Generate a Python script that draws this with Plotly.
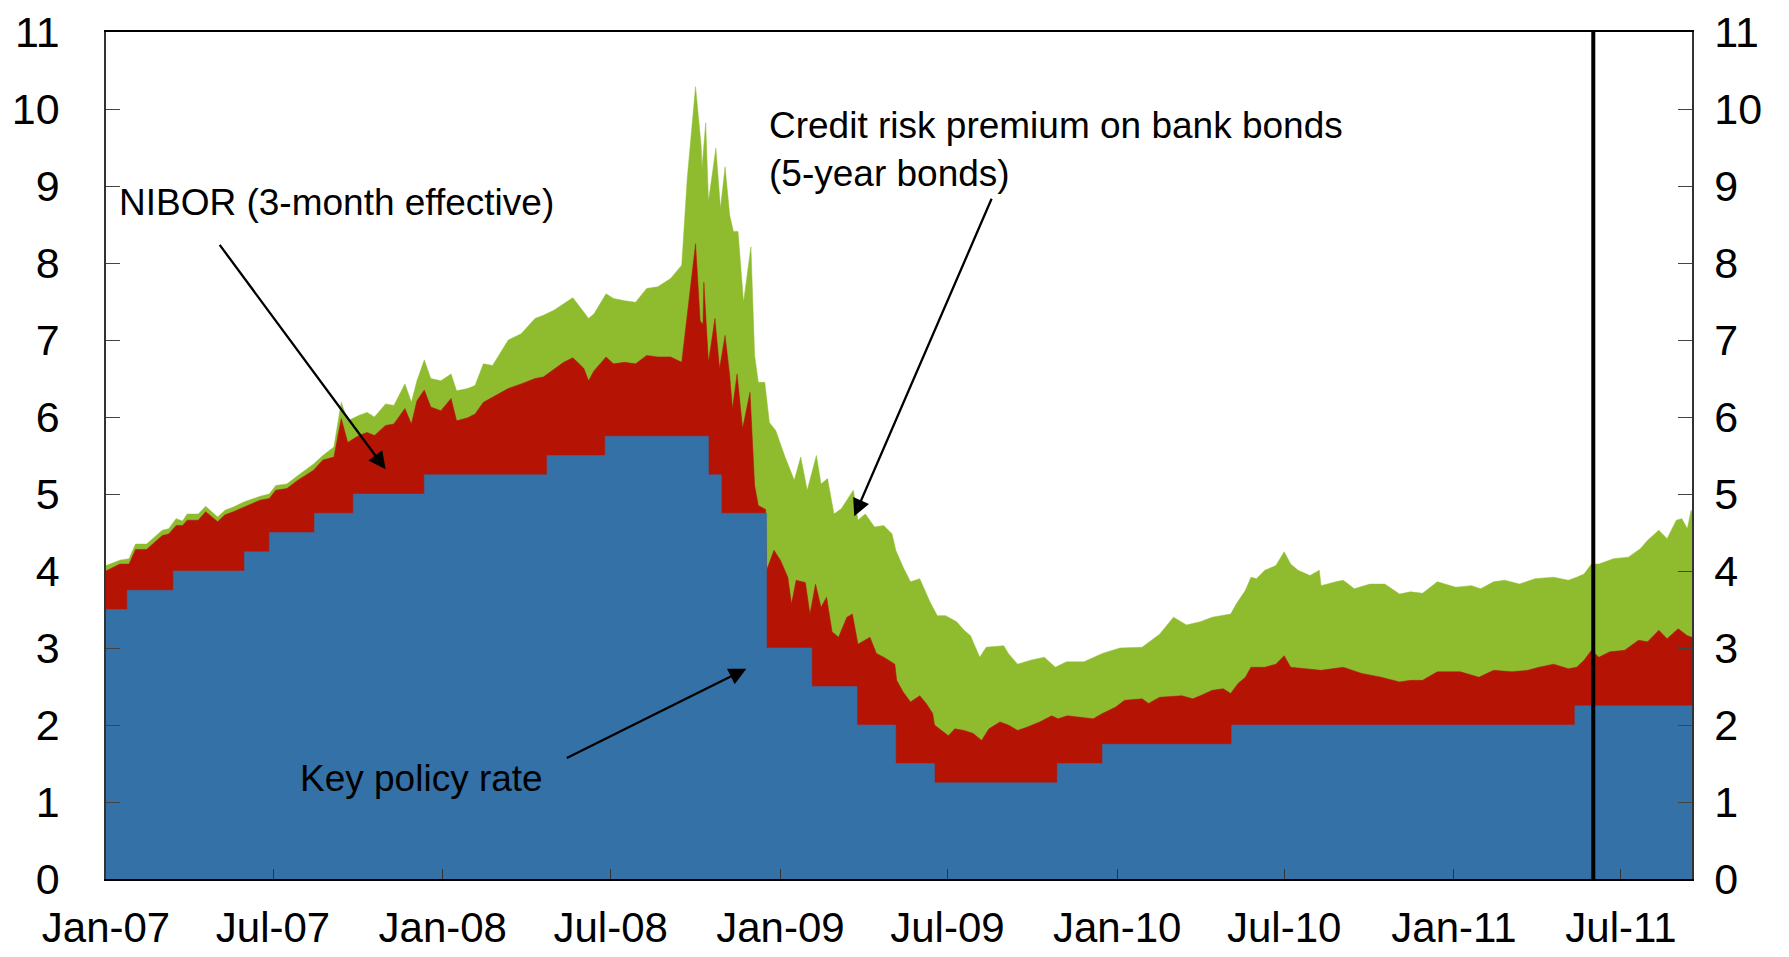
import plotly.graph_objects as go

# ---------------- data ----------------
policy_dates = ['2007-01-01', '2007-01-24', '2007-03-15', '2007-05-31', '2007-06-27', '2007-08-15',
                '2007-09-26', '2007-12-12', '2008-04-23', '2008-06-25', '2008-10-15', '2008-10-29',
                '2008-12-17', '2009-02-04', '2009-03-25', '2009-05-06', '2009-06-17', '2009-10-28',
                '2009-12-16', '2010-05-05', '2011-05-12', '2011-09-16']
policy_rate = [3.50, 3.75, 4.00, 4.25, 4.50, 4.75, 5.00, 5.25, 5.50, 5.75, 5.25, 4.75,
               3.00, 2.50, 2.00, 1.50, 1.25, 1.50, 1.75, 2.00, 2.25, 2.25]

nibor_dates = ['2007-01-01', '2007-01-16', '2007-01-26', '2007-02-02', '2007-02-14', '2007-03-03',
               '2007-03-10', '2007-03-18', '2007-03-25', '2007-03-30', '2007-04-11', '2007-04-19',
               '2007-05-02', '2007-05-10', '2007-05-19', '2007-05-31', '2007-06-17', '2007-06-27',
               '2007-07-04', '2007-07-16', '2007-07-28', '2007-08-14', '2007-08-24', '2007-09-05',
               '2007-09-13', '2007-09-20', '2007-10-02', '2007-10-11', '2007-10-19', '2007-10-31',
               '2007-11-09', '2007-11-21', '2007-11-28', '2007-12-04', '2007-12-12', '2007-12-19',
               '2007-12-30', '2008-01-10', '2008-01-16', '2008-01-28', '2008-02-05', '2008-02-14',
               '2008-02-24', '2008-03-12', '2008-03-26', '2008-04-10', '2008-04-19', '2008-05-01',
               '2008-05-11', '2008-05-21', '2008-06-02', '2008-06-07', '2008-06-13', '2008-06-26',
               '2008-07-04', '2008-07-16', '2008-07-28', '2008-08-09', '2008-08-21', '2008-09-04',
               '2008-09-16', '2008-10-01', '2008-10-06', '2008-10-09', '2008-10-10', '2008-10-15',
               '2008-10-22', '2008-10-27', '2008-11-02', '2008-11-07', '2008-11-10', '2008-11-15',
               '2008-11-21', '2008-11-29', '2008-12-04', '2008-12-08', '2008-12-16', '2008-12-17',
               '2008-12-25', '2009-01-01', '2009-01-09', '2009-01-13', '2009-01-18', '2009-01-28',
               '2009-02-02', '2009-02-08', '2009-02-14', '2009-02-20', '2009-02-26', '2009-03-05',
               '2009-03-14', '2009-03-20', '2009-03-26', '2009-04-08', '2009-04-15', '2009-04-23',
               '2009-05-05', '2009-05-07', '2009-05-14', '2009-05-22', '2009-06-01', '2009-06-08',
               '2009-06-15', '2009-06-17', '2009-07-02', '2009-07-09', '2009-07-19', '2009-07-29',
               '2009-08-07', '2009-08-15', '2009-08-27', '2009-09-05', '2009-09-15', '2009-09-25',
               '2009-10-09', '2009-10-22', '2009-10-29', '2009-11-08', '2009-11-22', '2009-12-06',
               '2009-12-16', '2009-12-30', '2010-01-09', '2010-01-28', '2010-02-04', '2010-02-16',
               '2010-03-12', '2010-03-24', '2010-04-01', '2010-04-14', '2010-04-26', '2010-05-04',
               '2010-05-12', '2010-05-20', '2010-05-26', '2010-06-10', '2010-06-22', '2010-07-01',
               '2010-07-08', '2010-07-24', '2010-08-10', '2010-09-03', '2010-09-23', '2010-10-14',
               '2010-11-03', '2010-11-15', '2010-11-28', '2010-12-14', '2011-01-08', '2011-01-28',
               '2011-02-13', '2011-03-05', '2011-03-22', '2011-04-03', '2011-04-19', '2011-05-05',
               '2011-05-14', '2011-05-22', '2011-05-30', '2011-06-07', '2011-06-19', '2011-07-05',
               '2011-07-20', '2011-07-30', '2011-08-11', '2011-08-20', '2011-09-01', '2011-09-11',
               '2011-09-16']
nibor = [4.00, 4.09, 4.09, 4.28, 4.28, 4.46,
         4.48, 4.59, 4.59, 4.66, 4.66, 4.77,
         4.64, 4.73, 4.77, 4.83, 4.92, 4.94,
         5.05, 5.07, 5.18, 5.31, 5.44, 5.48,
         5.98, 5.67, 5.76, 5.80, 5.76, 5.89,
         5.91, 6.11, 5.91, 6.21, 6.35, 6.13,
         6.08, 6.24, 5.95, 5.99, 6.04, 6.19,
         6.26, 6.37, 6.43, 6.50, 6.52, 6.63,
         6.71, 6.77, 6.63, 6.47, 6.60, 6.78,
         6.69, 6.71, 6.69, 6.80, 6.78, 6.78,
         6.71, 8.25, 7.25, 7.20, 7.75, 6.71,
         7.28, 6.63, 7.06, 6.54, 6.11, 6.56,
         5.85, 6.32, 5.11, 4.85, 4.80, 4.01,
         4.27, 4.14, 3.92, 3.57, 3.88, 3.85,
         3.44, 3.83, 3.53, 3.66, 3.21, 3.14,
         3.40, 3.44, 3.05, 3.14, 2.93, 2.88,
         2.79, 2.58, 2.43, 2.30, 2.38, 2.28,
         2.15, 2.00, 1.86, 1.95, 1.93, 1.89,
         1.80, 1.95, 2.04, 2.00, 1.93, 1.97,
         2.04, 2.12, 2.08, 2.12, 2.10, 2.08,
         2.15, 2.23, 2.32, 2.34, 2.28, 2.36,
         2.38, 2.34, 2.38, 2.45, 2.47, 2.41,
         2.54, 2.62, 2.75, 2.75, 2.79, 2.90,
         2.75, 2.73, 2.71, 2.75, 2.67, 2.62,
         2.56, 2.58, 2.58, 2.69, 2.69, 2.62,
         2.71, 2.69, 2.71, 2.75, 2.79, 2.73,
         2.75, 2.84, 2.97, 2.88, 2.95, 2.97,
         3.10, 3.08, 3.23, 3.12, 3.25, 3.16,
         3.14]

total_dates = ['2007-01-01', '2007-01-16', '2007-01-26', '2007-02-02', '2007-02-14', '2007-03-03',
               '2007-03-10', '2007-03-18', '2007-03-25', '2007-03-30', '2007-04-11', '2007-04-19',
               '2007-05-02', '2007-05-10', '2007-05-19', '2007-05-31', '2007-06-17', '2007-06-27',
               '2007-07-04', '2007-07-16', '2007-07-28', '2007-08-14', '2007-08-24', '2007-09-05',
               '2007-09-13', '2007-09-20', '2007-10-02', '2007-10-11', '2007-10-19', '2007-10-31',
               '2007-11-09', '2007-11-21', '2007-11-28', '2007-12-04', '2007-12-12', '2007-12-19',
               '2007-12-30', '2008-01-10', '2008-01-16', '2008-01-28', '2008-02-05', '2008-02-14',
               '2008-02-24', '2008-03-12', '2008-03-26', '2008-04-10', '2008-04-19', '2008-05-01',
               '2008-05-11', '2008-05-21', '2008-06-02', '2008-06-07', '2008-06-13', '2008-06-26',
               '2008-07-04', '2008-07-16', '2008-07-28', '2008-08-09', '2008-08-21', '2008-09-04',
               '2008-09-16', '2008-09-22', '2008-10-01', '2008-10-07', '2008-10-08', '2008-10-12',
               '2008-10-15', '2008-10-23', '2008-10-28', '2008-11-02', '2008-11-07', '2008-11-11',
               '2008-11-16', '2008-11-22', '2008-11-30', '2008-12-04', '2008-12-08', '2008-12-15',
               '2008-12-20', '2008-12-27', '2009-01-06', '2009-01-16', '2009-01-23', '2009-01-30',
               '2009-02-09', '2009-02-14', '2009-02-21', '2009-02-28', '2009-03-08', '2009-03-15',
               '2009-03-21', '2009-03-26', '2009-04-03', '2009-04-13', '2009-04-23', '2009-05-02',
               '2009-05-06', '2009-05-14', '2009-05-22', '2009-06-01', '2009-06-05', '2009-06-12',
               '2009-06-20', '2009-06-29', '2009-07-11', '2009-07-19', '2009-07-26', '2009-08-05',
               '2009-08-12', '2009-08-31', '2009-09-05', '2009-09-15', '2009-09-29', '2009-10-14',
               '2009-10-26', '2009-11-07', '2009-11-26', '2009-12-16', '2010-01-04', '2010-01-28',
               '2010-02-16', '2010-03-03', '2010-03-17', '2010-04-01', '2010-04-14', '2010-04-26',
               '2010-05-04', '2010-05-10', '2010-05-20', '2010-05-26', '2010-06-01', '2010-06-10',
               '2010-06-22', '2010-07-01', '2010-07-08', '2010-07-16', '2010-07-29', '2010-08-08',
               '2010-08-10', '2010-08-26', '2010-09-03', '2010-09-15', '2010-10-02', '2010-10-18',
               '2010-11-03', '2010-11-15', '2010-11-28', '2010-12-14', '2011-01-03', '2011-01-20',
               '2011-01-30', '2011-02-13', '2011-02-25', '2011-03-13', '2011-03-30', '2011-04-19',
               '2011-05-05', '2011-05-14', '2011-05-22', '2011-05-30', '2011-06-07', '2011-06-23',
               '2011-07-09', '2011-07-22', '2011-07-30', '2011-08-11', '2011-08-20', '2011-08-30',
               '2011-09-05', '2011-09-11', '2011-09-15', '2011-09-16']
total = [4.07, 4.14, 4.16, 4.35, 4.35, 4.53,
         4.55, 4.68, 4.65, 4.74, 4.74, 4.84,
         4.70, 4.79, 4.83, 4.90, 4.97, 5.00,
         5.11, 5.13, 5.24, 5.39, 5.50, 5.61,
         6.19, 5.95, 6.02, 6.06, 6.00, 6.17,
         6.15, 6.43, 6.19, 6.47, 6.74, 6.50,
         6.47, 6.56, 6.34, 6.37, 6.41, 6.69,
         6.67, 7.00, 7.08, 7.28, 7.32, 7.39,
         7.47, 7.55, 7.36, 7.28, 7.34, 7.60,
         7.54, 7.51, 7.49, 7.67, 7.69, 7.80,
         7.97, 9.10, 10.29, 9.53, 9.23, 9.82,
         8.80, 9.49, 8.71, 9.25, 8.62, 8.41,
         8.41, 7.49, 8.21, 6.80, 6.45, 6.45,
         5.93, 5.82, 5.48, 5.18, 5.48, 5.05,
         5.50, 5.13, 5.20, 4.74, 4.81, 4.94,
         5.05, 4.66, 4.74, 4.57, 4.59, 4.48,
         4.27, 4.05, 3.86, 3.90, 3.79, 3.60,
         3.42, 3.42, 3.34, 3.23, 3.16, 2.88,
         3.01, 3.03, 2.93, 2.79, 2.84, 2.88,
         2.75, 2.82, 2.82, 2.93, 3.00, 3.01,
         3.18, 3.40, 3.30, 3.34, 3.40, 3.42,
         3.44, 3.57, 3.75, 3.92, 3.90, 4.01,
         4.07, 4.25, 4.09, 4.01, 3.94, 4.01,
         3.81, 3.86, 3.88, 3.77, 3.83, 3.83,
         3.70, 3.73, 3.71, 3.86, 3.79, 3.81,
         3.77, 3.86, 3.88, 3.83, 3.90, 3.92,
         3.88, 3.92, 3.96, 4.09, 4.09, 4.16,
         4.18, 4.29, 4.40, 4.53, 4.42, 4.66,
         4.68, 4.55, 4.79, 4.75]

tick_dates = ['2007-01-01', '2007-07-01', '2008-01-01', '2008-07-01', '2009-01-01',
              '2009-07-01', '2010-01-01', '2010-07-01', '2011-01-01', '2011-07-01']
tick_text = ['Jan-07', 'Jul-07', 'Jan-08', 'Jul-08', 'Jan-09',
             'Jul-09', 'Jan-10', 'Jul-10', 'Jan-11', 'Jul-11']
y_ticks = list(range(0, 12))
marker_date = '2011-06-01'

GREEN = '#8FBC2E'
RED = '#B51404'
BLUE = '#3471A6'
FONT = 'Liberation Sans, Arial, sans-serif'

fig = go.Figure()
fig.add_trace(go.Scatter(x=total_dates, y=total, mode='lines', fill='tozeroy',
                         line=dict(color=GREEN, width=0.5), fillcolor=GREEN,
                         name='Credit risk premium on bank bonds (5-year bonds)'))
fig.add_trace(go.Scatter(x=nibor_dates, y=nibor, mode='lines', fill='tozeroy',
                         line=dict(color=RED, width=0.5), fillcolor=RED,
                         name='NIBOR (3-month effective)'))
fig.add_trace(go.Scatter(x=policy_dates, y=policy_rate, mode='lines', fill='tozeroy',
                         line=dict(color=BLUE, width=0.5, shape='hv'), fillcolor=BLUE,
                         name='Key policy rate'))
# invisible trace so the right-hand axis is drawn
fig.add_trace(go.Scatter(x=[policy_dates[0]], y=[policy_rate[0]], yaxis='y2', mode='markers',
                         marker=dict(opacity=0), hoverinfo='skip', showlegend=False))

fig.add_shape(type='line', x0=marker_date, x1=marker_date, xref='x', y0=0, y1=1, yref='paper',
              line=dict(color='black', width=4))

ann_font = dict(family=FONT, size=37, color='black')
fig.add_annotation(x='2007-01-13', y=8.78, text='NIBOR (3-month effective)', showarrow=False,
                   xanchor='left', yanchor='middle', font=ann_font)
fig.add_annotation(x='2008-12-17', y=9.47, text='Credit risk premium on bank bonds<br>(5-year bonds)',
                   showarrow=False, xanchor='left', yanchor='middle', align='left', font=ann_font)
fig.add_annotation(x='2007-07-28', y=1.30, text='Key policy rate', showarrow=False,
                   xanchor='left', yanchor='middle', font=ann_font)

arrow_style = dict(showarrow=True, arrowhead=2, arrowsize=1.5, arrowwidth=2.3, arrowcolor='black',
                   text='', standoff=0, axref='pixel', ayref='pixel')
fig.add_annotation(x='2007-10-31', y=5.32, ax=-167, ay=-226, **arrow_style)
fig.add_annotation(x='2009-03-22', y=4.71, ax=138, ay=-319, **arrow_style)
fig.add_annotation(x='2008-11-25', y=2.73, ax=-181, ay=90, **arrow_style)

tick_font = dict(family=FONT, size=43, color='black')
x_tick_font = dict(family=FONT, size=42, color='black')
fig.update_layout(
    width=1789, height=957,
    margin=dict(l=106, r=97, t=32, b=78, autoexpand=False),
    paper_bgcolor='white', plot_bgcolor='white',
    showlegend=False,
    xaxis=dict(type='date', range=['2007-01-01', '2011-09-16'], tickvals=tick_dates, ticktext=tick_text,
               ticks='inside', ticklen=10, tickcolor='#333', tickfont=x_tick_font,
               showline=True, linecolor='black', linewidth=1.5, mirror=True, automargin=False,
               showgrid=False, zeroline=False, ticklabelstandoff=11),
    yaxis=dict(range=[0, 11], tickvals=y_ticks, ticks='inside', ticklen=14, tickcolor='#444',
               tickfont=tick_font, showline=True, linecolor='#333', linewidth=1.5, automargin=False,
               showgrid=False, zeroline=False, ticklabelstandoff=36),
    yaxis2=dict(range=[0, 11], tickvals=y_ticks, ticks='inside', ticklen=14, tickcolor='#444',
                tickfont=tick_font, overlaying='y', side='right', showline=True, linecolor='#333',
                linewidth=1.5, showgrid=False, zeroline=False, ticklabelstandoff=12, automargin=False),
)

fig.write_html('out.html', config={'displayModeBar': False},
               post_script="document.body.style.margin='0';document.body.style.overflow='hidden';")
